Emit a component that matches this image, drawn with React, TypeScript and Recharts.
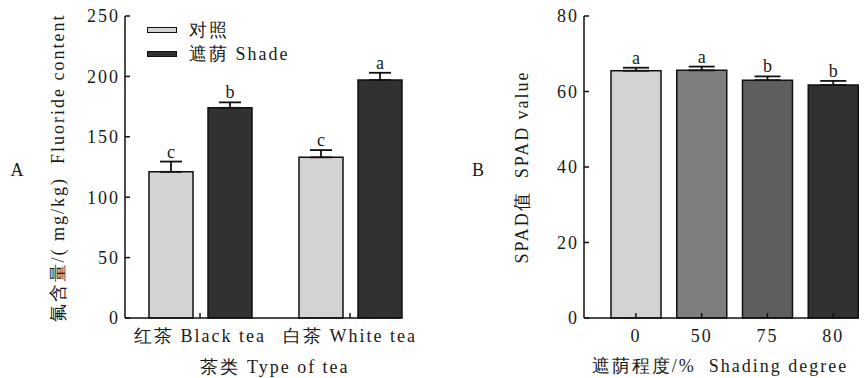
import { BarChart, Bar, XAxis, YAxis, ErrorBar, LabelList, Legend, Cell } from "recharts";

// Panel A: fluoride content by tea type
const teaTypes = ["红茶 Black tea", "白茶 White tea"];
const controlFluoride = [121, 133];
const controlErr = [8.5, 6];
const controlLetters = ["c", "c"];
const shadeFluoride = [174, 197];
const shadeErr = [4.5, 6];
const shadeLetters = ["b", "a"];
const fluorideTicks = [0, 50, 100, 150, 200, 250];

// Panel B: SPAD value by shading degree
const shadingDegrees = ["0", "50", "75", "80"];
const spadValues = [65.5, 65.6, 63.0, 61.7];
const spadErr = [0.8, 1.0, 1.0, 1.1];
const spadLetters = ["a", "a", "b", "b"];
const spadTicks = [0, 20, 40, 60, 80];
const spadColors = ["#d3d3d3", "#7e7e7e", "#5e5e5e", "#313131"];

const FONT = "'Liberation Serif', 'Times New Roman', 'DejaVu Serif', serif";
const textStyle = { fontFamily: FONT, fontSize: 18, letterSpacing: 2, color: "#1a1a1a" };
const tickStyle = { fill: "#1a1a1a", fontFamily: FONT, fontSize: 18, letterSpacing: 2 };

const dataA = teaTypes.map((tea, i) => ({
  tea,
  control: controlFluoride[i],
  controlErr: [0, controlErr[i]],
  shade: shadeFluoride[i],
  shadeErr: [0, shadeErr[i]],
}));

const dataB = shadingDegrees.map((deg, i) => ({
  deg,
  spad: spadValues[i],
  err: [0, spadErr[i]],
}));

// letter placed above the error bar cap
const letterLabel = (letters: string[], errs: number[]) => (props: any) => {
  const { x, y, width, height, index, value } = props;
  const pxPerUnit = height / value;
  const top = y - errs[index] * pxPerUnit;
  return (
    <text x={x + width / 2} y={top - 4} textAnchor="middle" fontFamily={FONT} fontSize={18} fill="#1a1a1a">
      {letters[index]}
    </text>
  );
};

const legendContent = (props: any) => (
  <div style={{ ...textStyle, lineHeight: "24px" }}>
    {(props.payload || []).map((p: any) => (
      <div key={p.value} style={{ display: "flex", alignItems: "center", height: 24 }}>
        <span style={{ width: 28, height: 4, background: p.color, border: "1.5px solid #111", display: "inline-block" }} />
        <span style={{ marginLeft: 12 }}>{p.value}</span>
      </div>
    ))}
  </div>
);

const rotated = (x: number, y: number, text: string) => (
  <div
    style={{
      ...textStyle,
      position: "absolute",
      left: x,
      top: y,
      transform: "translate(-50%, -50%) rotate(-90deg)",
      whiteSpace: "pre",
    }}
  >
    {text}
  </div>
);

const plain = (x: number, y: number, text: string) => (
  <div style={{ ...textStyle, position: "absolute", left: x, top: y, transform: "translate(-50%, -50%)", whiteSpace: "pre" }}>
    {text}
  </div>
);

export default function App() {
  return (
    <div style={{ position: "absolute", left: 0, top: 0, width: 864, height: 378, background: "#fff", overflow: "hidden" }}>
      <div style={{ position: "absolute", left: 0, top: 0 }}>
        <BarChart width={440} height={378} data={dataA} margin={{ top: 16, right: 39, bottom: 30, left: 70 }} barSize={44} barGap={15}>
          <XAxis
            dataKey="tea"
            height={30}
            padding={{ left: 0, right: -24 }}
            tickSize={-5}
            tickMargin={16}
            tick={tickStyle}
            axisLine={{ stroke: "#111", strokeWidth: 1.5 }}
            tickLine={{ stroke: "#111", strokeWidth: 1.5 }}
          />
          <YAxis
            width={55}
            domain={[0, 250]}
            ticks={fluorideTicks}
            tickSize={-5}
            tickMargin={10}
            tick={tickStyle}
            axisLine={{ stroke: "#111", strokeWidth: 1.5 }}
            tickLine={{ stroke: "#111", strokeWidth: 1.5 }}
          />
          <Legend layout="vertical" align="center" verticalAlign="middle" wrapperStyle={{ left: 147, top: 18, width: 200 }} content={legendContent} />
          <Bar dataKey="control" name="对照" fill="#d3d3d3" stroke="#111" strokeWidth={1.5} isAnimationActive={false}>
            <ErrorBar dataKey="controlErr" direction="y" width={11} stroke="#111" strokeWidth={1.8} />
            <LabelList dataKey="control" content={letterLabel(controlLetters, controlErr)} />
          </Bar>
          <Bar dataKey="shade" name="遮荫 Shade" fill="#313131" stroke="#111" strokeWidth={1.5} isAnimationActive={false}>
            <ErrorBar dataKey="shadeErr" direction="y" width={11} stroke="#111" strokeWidth={1.8} />
            <LabelList dataKey="shade" content={letterLabel(shadeLetters, shadeErr)} />
          </Bar>
        </BarChart>
      </div>

      <div style={{ position: "absolute", left: 440, top: 0 }}>
        <BarChart width={424} height={378} data={dataB} margin={{ top: 16, right: 6, bottom: 30, left: 89 }} barSize={50}>
          <XAxis
            dataKey="deg"
            height={30}
            padding={{ left: 19, right: -8 }}
            tickSize={-5}
            tickMargin={16}
            tick={tickStyle}
            axisLine={{ stroke: "#111", strokeWidth: 1.5 }}
            tickLine={{ stroke: "#111", strokeWidth: 1.5 }}
          />
          <YAxis
            width={55}
            domain={[0, 80]}
            ticks={spadTicks}
            tickSize={-5}
            tickMargin={10}
            tick={tickStyle}
            axisLine={{ stroke: "#111", strokeWidth: 1.5 }}
            tickLine={{ stroke: "#111", strokeWidth: 1.5 }}
          />
          <Bar dataKey="spad" stroke="#111" strokeWidth={1.5} isAnimationActive={false}>
            {spadColors.map((c, i) => (
              <Cell key={i} fill={c} />
            ))}
            <ErrorBar dataKey="err" direction="y" width={13} stroke="#111" strokeWidth={1.8} />
            <LabelList dataKey="spad" content={letterLabel(spadLetters, spadErr)} />
          </Bar>
        </BarChart>
      </div>

      {plain(18, 170, "A")}
      {rotated(58, 168, "氟含量/( mg/kg)  Fluoride content")}
      {plain(275, 367, "茶类 Type of tea")}

      {plain(479, 170, "B")}
      {rotated(522, 167, "SPAD值  SPAD value")}
      {plain(720, 366, "遮荫程度/%  Shading degree")}
    </div>
  );
}
